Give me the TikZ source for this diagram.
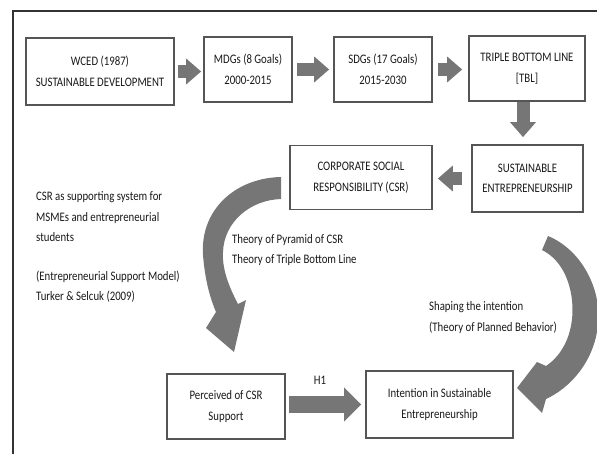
\documentclass[tikz,border=0pt]{standalone}
\usepackage{fontspec}
\setmainfont{Carlito}[FakeStretch=0.83]
\usetikzlibrary{arrows.meta}
\definecolor{boxline}{RGB}{85,85,85}
\definecolor{arrowfill}{RGB}{118,118,118}
\definecolor{textgray}{RGB}{25,25,25}

\begin{document}
\begin{tikzpicture}[x=1pt, y=-1pt,
    every node/.style={font=\fontsize{13}{20.5}\selectfont, text=textgray},
    stagebox/.style={draw=boxline, line width=1.7pt, align=center, inner sep=2pt},
    blockarrow/.style={draw=arrowfill, line width=13pt, -{Triangle[length=15pt, width=25pt]}},
    note/.style={align=left, anchor=west, inner sep=0pt}]
  \useasboundingbox (0,0) rectangle (597,454);
  % frame
  \draw[line width=1.5pt, black!80] (13,454) -- (13,11) -- (597,11);

  % top row
  \node[stagebox, minimum width=148pt, minimum height=67pt] (wced) at (100,71.5) {WCED (1987)\\SUSTAINABLE DEVELOPMENT};
  \node[stagebox, minimum width=88pt, minimum height=65pt] (mdgs) at (248,69.5) {MDGs (8 Goals)\\2000-2015};
  \node[stagebox, minimum width=98pt, minimum height=65pt] (sdgs) at (383,69.5) {SDGs (17 Goals)\\2015-2030};
  \node[stagebox, minimum width=116pt, minimum height=65pt] (tbl) at (527,68.5) {TRIPLE BOTTOM LINE\\{[}TBL{]}};

  % second row
  \node[stagebox, minimum width=111pt, minimum height=67pt] (se) at (527.5,178.5) {SUSTAINABLE\\ENTREPRENEURSHIP};
  \node[stagebox, minimum width=142pt, minimum height=64pt] (csr) at (361,177.5) {CORPORATE SOCIAL\\RESPONSIBILITY (CSR)};

  % bottom row
  \node[stagebox, minimum width=118pt, minimum height=65pt] (perc) at (226,406.5) {Perceived of CSR\\Support};
  \node[stagebox, minimum width=147pt, minimum height=67pt] (intent) at (439.5,404.5) {Intention in Sustainable\\Entrepreneurship};

  % straight block arrows
  \draw[blockarrow, shorten <=3pt, shorten >=2pt] (wced.east) -- (wced.east -| mdgs.west);
  \draw[blockarrow, shorten <=4pt, shorten >=4pt] (mdgs.east) -- (mdgs.east -| sdgs.west);
  \draw[blockarrow, shorten <=5pt, shorten >=6pt] (sdgs.east) -- (sdgs.east -| tbl.west);
  \draw[blockarrow, shorten >=7pt] ([xshift=-4pt]tbl.south) -- ([xshift=-4pt]tbl.south |- se.north);
  \draw[blockarrow, shorten <=9pt, shorten >=5pt] (se.west) -- (se.west -| csr.east);
  \draw[blockarrow, line width=17pt, -{Triangle[length=17pt, width=33pt]}, shorten <=3pt, shorten >=4pt]
    ([yshift=2pt]perc.east) -- ([yshift=2pt]perc.east -| intent.west);
  \node (h1) at (320,380) {H1};

  % curved arrows
  \fill[arrowfill] (281,177) .. controls (235,178) and (200,210) .. (203,255)
    .. controls (205,280) and (210,298) .. (216,312)
    -- (206,328) -- (234,352) -- (246,300) -- (238,304)
    .. controls (228,285) and (222,268) .. (223,252)
    .. controls (224,222) and (250,200) .. (281,199) -- cycle;
  \fill[arrowfill] (548,236) .. controls (582,250) and (602,290) .. (598,325)
    .. controls (594,362) and (570,388) .. (546,399)
    -- (542,413) -- (517,388) -- (537,362) -- (546,366)
    .. controls (564,354) and (575,330) .. (572,300)
    .. controls (569,275) and (558,258) .. (542,250) -- cycle;

  % notes
  \node[note] (support) at (36,217) {CSR as supporting system for\\MSMEs and entrepreneurial\\students};
  \node[note] (model) at (36,286.5) {(Entrepreneurial Support Model)\\Turker \& Selcuk (2009)};
  \node[note] (theory) at (232,250) {Theory of Pyramid of CSR\\Theory of Triple Bottom Line};
  \node[note] (shaping) at (429,317.5) {Shaping the intention\\(Theory of Planned Behavior)};
\end{tikzpicture}
\end{document}
